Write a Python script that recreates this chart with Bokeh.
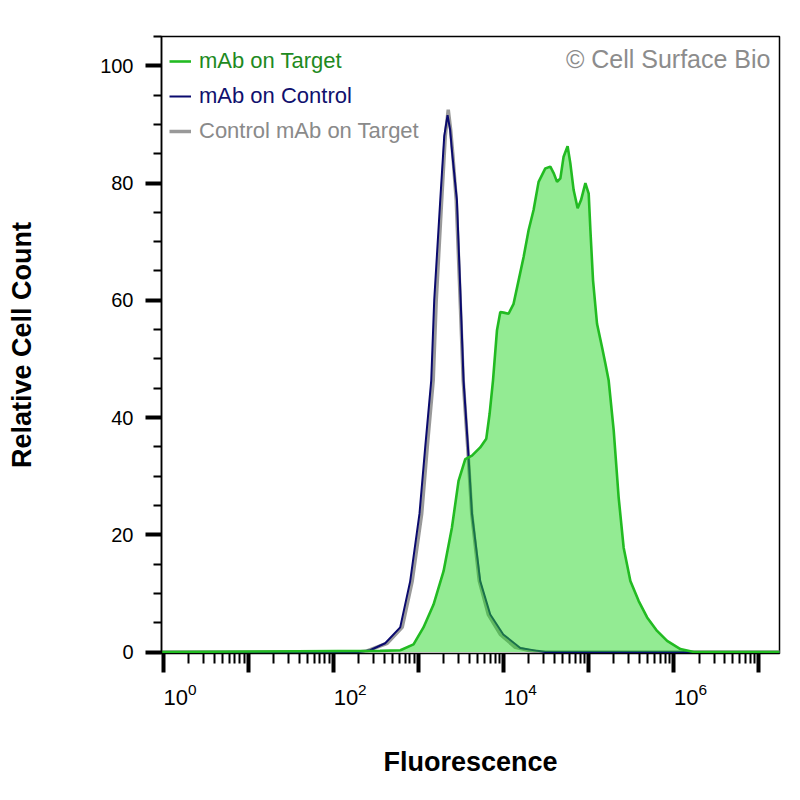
from bokeh.plotting import figure
from bokeh.models import (FixedTicker, CustomJSTickFormatter, Label, Legend,
                          LegendItem, Range1d, LogAxis, LogScale,
                          LogTickFormatter)
from bokeh.embed import file_html
from bokeh.resources import INLINE

FONT = "Liberation Sans"

# ---------------- data ----------------
# mAb on Target (green, filled)
target_x = [0.96, 355, 617, 881, 1153, 1514, 1986, 2489, 2979, 3573, 4285, 5358,
            6310, 6902, 7568, 8433, 9226, 10093, 11535, 13213, 15136, 17338,
            19861, 22699, 26002, 31189, 35727, 39084, 42855, 46881, 51168, 57016,
            61376, 67143, 74817, 82035, 92257, 100925, 105682, 113501, 126474,
            144877, 158489, 173380, 198609, 226986, 260016, 311889, 390841,
            490908, 642688, 843335, 1207814, 1733804, 1.8e7]
target_y = [0, 0.2, 0.3, 1.3, 4.2, 8.1, 13.8, 21.2, 29.2, 32.9, 33.5, 34.9,
            36.4, 40.6, 46.3, 54.9, 58, 57.9, 57.7, 59.4, 63.4, 67.4,
            72, 75.4, 80.2, 82.5, 82.8, 81.7, 80.2, 80.8, 84.5, 86.3,
            83.4, 78.8, 75.7, 77.1, 80, 78.2, 72, 63.4, 56,
            52, 49.2, 46.3, 37.8, 26.4, 17.8, 12.1, 8.7,
            5.9, 3.6, 1.9, 0.5, 0, 0]

# mAb on Control (navy)
control_x = [0.96, 200, 272, 409, 614, 805, 1035, 1208, 1422, 1542, 1816, 2023,
             2213, 2377, 2512, 2851, 3119, 3412, 3846, 4285, 5358, 7031, 10000,
             15849, 25119, 31189, 1.8e7]
control_y = [0, 0, 0.3, 1.5, 4.2, 12.1, 23.6, 34.9, 46.3, 60, 77.1, 88,
             91.6, 89, 85, 77.1, 62, 46.3, 34.9, 23.6, 12.1, 6.4, 3,
             0.7, 0.2, 0, 0]

# Control mAb on Target (gray)
isotype_x = [0.96, 200, 251, 432, 648, 850, 1099, 1276, 1500, 1629, 1888, 2080,
             2254, 2410, 2547, 2799, 3076, 3381, 3819, 4256, 5224, 6668, 9226,
             13836, 20797, 27227, 1.8e7]
isotype_y = [0, 0, 0.2, 1.5, 4.2, 12.1, 23.6, 34.9, 46.3, 60, 77.1, 88,
             92.5, 89, 85, 77.1, 62, 46.3, 34.9, 23.6, 12.1, 6.4, 3,
             0.8, 0.2, 0, 0]

series_labels = ["mAb on Target", "mAb on Control", "Control mAb on Target"]

y_major = [0, 20, 40, 60, 80, 100]
y_minor = [5, 10, 15, 25, 30, 35, 45, 50, 55, 65, 70, 75, 85, 90, 95, 105]
x_major = [1, 10, 100, 1e3, 1e4, 1e5, 1e6, 1e7]
x_minor = [m * d for d in [1, 10, 100, 1e3, 1e4, 1e5, 1e6] for m in range(2, 10)]
x_label_ticks = [1, 100, 1e4, 1e6]

X_START, X_END = 0.96, 1.766e7
LABEL_SHIFT = 10 ** 0.2   # tick labels sit to the right of their tick

# ---------------- figure ----------------
p = figure(frame_width=618, frame_height=617,
           x_axis_type="log",
           x_range=Range1d(X_START, X_END), y_range=Range1d(-0.25, 105),
           output_backend="svg", toolbar_location=None,
           min_border_left=161, min_border_right=13,
           min_border_top=36, min_border_bottom=139,
           background_fill_color="white", border_fill_color="white")
p.xgrid.visible = False
p.ygrid.visible = False
p.outline_line_color = "black"
p.outline_line_width = 1.5

# curves
r_iso = p.line(isotype_x, isotype_y, line_color="#8e8e8e", line_width=3.5,
               line_alpha=0.9)
r_control = p.line(control_x, control_y, line_color="#0a0a6e", line_width=2)
p.varea(x=target_x, y1=[0] * len(target_x), y2=target_y,
        fill_color="#28d728", fill_alpha=0.5)
r_target = p.line(target_x, target_y, line_color="#22bb22", line_width=2.6)

# y axis
ya = p.yaxis[0]
ya.ticker = FixedTicker(ticks=y_major, minor_ticks=y_minor)
ya.major_tick_in = 0
ya.major_tick_out = 16
ya.major_tick_line_width = 4
ya.minor_tick_in = 0
ya.minor_tick_out = 8
ya.minor_tick_line_width = 2
ya.axis_line_width = 1.5
ya.major_label_text_font = FONT
ya.major_label_text_font_size = "20px"
ya.major_label_text_color = "black"
ya.major_label_standoff = 12
ya.axis_label = "Relative Cell Count"
ya.axis_label_text_font = FONT
ya.axis_label_text_font_size = "27px"
ya.axis_label_text_font_style = "bold"
ya.axis_label_text_color = "black"
ya.axis_label_standoff = 60

# x axis: ticks only
xa = p.xaxis[0]
xa.ticker = FixedTicker(ticks=x_major, minor_ticks=x_minor)
xa.formatter = CustomJSTickFormatter(code="return ''")
xa.major_label_text_font_size = "1px"
xa.major_label_standoff = 0
xa.major_tick_in = 0
xa.major_tick_out = 19
xa.major_tick_line_width = 4
xa.minor_tick_in = 0
xa.minor_tick_out = 10
xa.minor_tick_line_width = 2
xa.axis_line_width = 1

# x axis: labels 10^n on every second decade, set to the right of the tick
p.extra_x_ranges = {"lab": Range1d(X_START / LABEL_SHIFT, X_END / LABEL_SHIFT)}
p.extra_x_scales = {"lab": LogScale()}
lab_axis = LogAxis(x_range_name="lab",
                   ticker=FixedTicker(ticks=x_label_ticks, minor_ticks=[]),
                   formatter=LogTickFormatter(),
                   axis_line_color=None, major_tick_line_color=None,
                   minor_tick_line_color=None, major_tick_in=0,
                   major_tick_out=0, minor_tick_in=0, minor_tick_out=0,
                   major_label_standoff=10, major_label_text_font=FONT,
                   major_label_text_font_size="22px",
                   major_label_text_color="black",
                   axis_label="Fluorescence", axis_label_text_font=FONT,
                   axis_label_text_font_size="27px",
                   axis_label_text_font_style="bold",
                   axis_label_text_color="black", axis_label_standoff=39)
p.add_layout(lab_axis, "below")

# legends: one per series so each label keeps its own colour
legend_colors = ["#1e8a1e", "#10106e", "#8a8a8a"]
legend_bottoms = [579, 544, 509]
for r, lab, col, vy in zip([r_target, r_control, r_iso], series_labels,
                           legend_colors, legend_bottoms):
    leg = Legend(items=[LegendItem(label=lab, renderers=[r])],
                 location=(8, vy), padding=0, margin=0, spacing=0,
                 label_standoff=8, glyph_width=22, glyph_height=20,
                 label_height=20, label_text_font=FONT,
                 label_text_font_size="22px", label_text_color=col,
                 border_line_color=None, background_fill_alpha=0)
    p.add_layout(leg)

# copyright note
p.add_layout(Label(x=609, y=594.5, x_units="screen", y_units="screen",
                   text="\u00a9 Cell Surface Bio", text_align="right",
                   text_baseline="alphabetic", text_font=FONT,
                   text_font_size="25px", text_color="#8c8c8c"))

open("out.html", "w").write(file_html(p, INLINE))
